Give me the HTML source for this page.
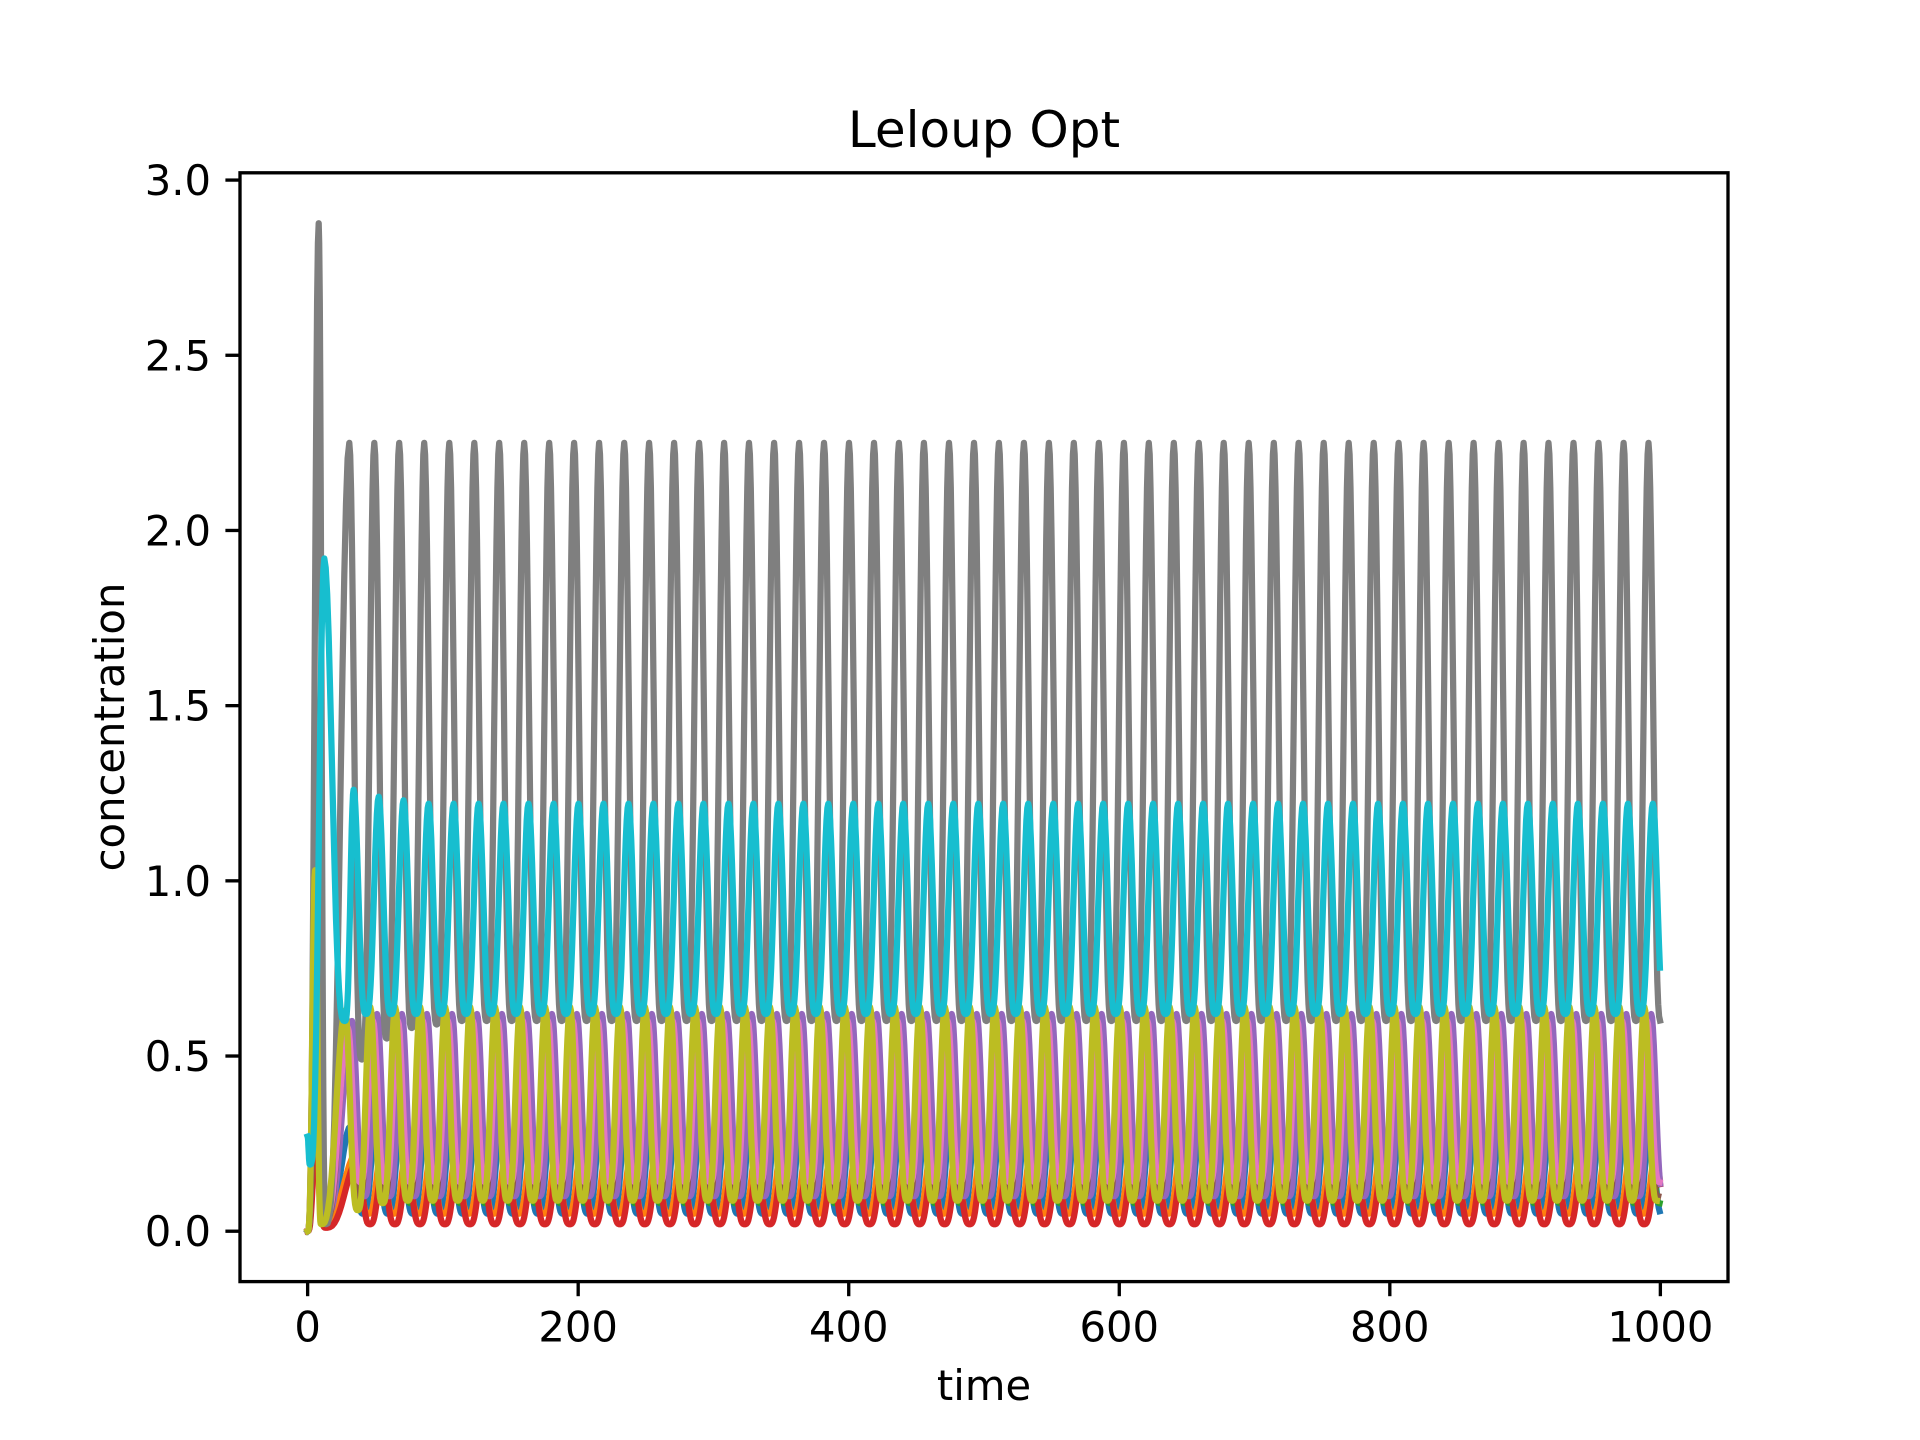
<!DOCTYPE html>
<html><head><meta charset="utf-8"><title>Leloup Opt</title>
<style>html,body{margin:0;padding:0;background:#fff}svg{display:block}text{font-family:"DejaVu Sans","Liberation Sans",sans-serif;fill:#000}</style>
</head><body>
<svg id="chart" width="1920" height="1440" viewBox="0 0 1920 1440" xmlns="http://www.w3.org/2000/svg">
<rect x="0" y="0" width="1920" height="1440" fill="#fff"/>
<text x="984" y="147" font-size="50" text-anchor="middle">Leloup Opt</text>
<defs><clipPath id="plotclip"><rect x="240" y="172.8" width="1488" height="1108.8"/></clipPath></defs>
<g id="series" clip-path="url(#plotclip)"></g>
<g id="axes"></g>
<text x="984" y="1400" font-size="41.7" text-anchor="middle">time</text>
<text x="0" y="0" font-size="41.7" text-anchor="middle" transform="translate(124,727) rotate(-90)">concentration</text>
</svg>
<script>
const xTicks = [0, 200, 400, 600, 800, 1000];
const xTickLabels = ["0", "200", "400", "600", "800", "1000"];
const yTicks = [0, 0.5, 1.0, 1.5, 2.0, 2.5, 3.0];
const yTickLabels = ["0.0", "0.5", "1.0", "1.5", "2.0", "2.5", "3.0"];
const tEnd = 1000;
const cycleTimes = [30.8,49.3,67.7,86.2,104.7,123.2,141.6,160.1,178.6,197.0,215.5,234.0,252.4,270.9,289.4,307.9,326.3,344.8,363.3,381.7,400.2,418.7,437.1,455.6,474.1,492.6,511.0,529.5,548.0,566.4,584.9,603.4,621.8,640.3,658.8,677.2,695.7,714.2,732.6,751.1,769.6,788.1,806.5,825.0,843.5,861.9,880.4,898.9,917.3,935.8,954.3,972.8,991.2];
const seriesNames = ["blue","orange","green","red","purple","brown","pink","gray","olive","cyan"];
const seriesColors = ["#1f77b4","#ff7f0e","#2ca02c","#d62728","#9467bd","#8c564b","#e377c2","#7f7f7f","#bcbd22","#17becf"];
// transient keypoints [t, value] before regular cycling
const blueStart = [[0,0],[6,0.35],[14,0.05]];
const orangeStart = [[0,0],[5,0.3],[12,0.03]];
const greenStart = [[0,0],[6,1.1],[13,0.05]];
const redStart = [[0,0],[6,0.25],[13,0.01]];
const purpleStart = [[0,0],[6,0.7],[14,0.05]];
const brownStart = [[0,0],[6,0.6],[13,0.03]];
const pinkStart = [[0,0],[5,0.8],[12,0.03]];
const grayStart = [[0,0],[8.2,2.877],[13.5,0.02]];
const oliveStart = [[0,0],[5.5,1.03],[10,0.02]];
const cyanStart = [[0,0.27],[1.8,0.19],[12.3,1.92],[27.5,0.6]];
// per-cycle peak and trough values (last value holds for remaining cycles)
const bluePeaks = [0.3];  const blueTroughs = [0.05];
const orangePeaks = [0.22]; const orangeTroughs = [0.05];
const greenPeaks = [0.6]; const greenTroughs = [0.08];
const redPeaks = [0.2,0.18]; const redTroughs = [0.02];
const purplePeaks = [0.6,0.62]; const purpleTroughs = [0.1];
const brownPeaks = [0.55]; const brownTroughs = [0.1];
const pinkPeaks = [0.58,0.6]; const pinkTroughs = [0.14];
const grayPeaks = [2.25]; const grayTroughs = [0.49,0.55,0.58,0.59,0.6];
const olivePeaks = [0.63,0.64]; const oliveTroughs = [0.06,0.08,0.087];
const cyanPeaks = [1.26,1.24,1.23,1.22]; const cyanTroughs = [0.62];
const seriesLags = [1, 5, -1, 6, 2, -2, -1, 0, -3, 3.2];
const starts = [blueStart,orangeStart,greenStart,redStart,purpleStart,brownStart,pinkStart,grayStart,oliveStart,cyanStart];
const peaksAll = [bluePeaks,orangePeaks,greenPeaks,redPeaks,purplePeaks,brownPeaks,pinkPeaks,grayPeaks,olivePeaks,cyanPeaks];
const troughsAll = [blueTroughs,orangeTroughs,greenTroughs,redTroughs,purpleTroughs,brownTroughs,pinkTroughs,grayTroughs,oliveTroughs,cyanTroughs];

const NS = "http://www.w3.org/2000/svg";
const X0 = 240, X1 = 1728, Y0 = 1281.6, Y1 = 172.8;
const xMin = -50, xMax = 1050, yMin = -0.1438, yMax = 3.0208;
function xs(t){ return X0 + (t - xMin) / (xMax - xMin) * (X1 - X0); }
function ys(v){ return Y0 - (v - yMin) / (yMax - yMin) * (Y0 - Y1); }
function pick(arr, i){ return arr[Math.min(i, arr.length - 1)]; }

function keypoints(k){
  const pts = starts[k].slice();
  const lag = seriesLags[k];
  const n = cycleTimes.length;
  for (let i = 0; i < n; i++){
    const tp = cycleTimes[i] + lag;
    if (tp > pts[pts.length-1][0]) pts.push([tp, pick(peaksAll[k], i)]);
    const next = i + 1 < n ? cycleTimes[i+1] + lag : tp + (cycleTimes[n-1]-cycleTimes[n-2]);
    pts.push([(tp + next) / 2, pick(troughsAll[k], i)]);
  }
  return pts;
}
function buildPath(pts){
  let d = "";
  const p = 1.6;
  for (let j = 0; j < pts.length - 1; j++){
    const a = pts[j], b = pts[j+1];
    if (a[0] >= tEnd) break;
    const steps = 14;
    for (let s = 0; s <= steps; s++){
      const u = s / steps;
      const t = a[0] + (b[0]-a[0]) * u;
      if (t > tEnd) break;
      const f = (1 - Math.cos(Math.PI * u)) / 2;
      let v;
      if (b[1] > a[1]) v = a[1] + (b[1]-a[1]) * Math.pow(f, p);
      else v = b[1] + (a[1]-b[1]) * Math.pow(1 - f, p);
      d += (d ? "L" : "M") + xs(t).toFixed(1) + "," + ys(v).toFixed(1);
    }
  }
  return d;
}
const gS = document.getElementById("series");
for (let k = 0; k < seriesNames.length; k++){
  const path = document.createElementNS(NS, "path");
  path.setAttribute("d", buildPath(keypoints(k)));
  path.setAttribute("fill", "none");
  path.setAttribute("stroke", seriesColors[k]);
  path.setAttribute("stroke-width", "6.25");
  path.setAttribute("stroke-linejoin", "round");
  path.setAttribute("stroke-linecap", "square");
  
  
  gS.appendChild(path);
}
const gA = document.getElementById("axes");
const frame = document.createElementNS(NS, "rect");
frame.setAttribute("x", X0); frame.setAttribute("y", Y1);
frame.setAttribute("width", X1 - X0); frame.setAttribute("height", Y0 - Y1);
frame.setAttribute("fill", "none"); frame.setAttribute("stroke", "#000"); frame.setAttribute("stroke-width", "3.33");


gA.appendChild(frame);
xTicks.forEach((t, i) => {
  const x = xs(t);
  const ln = document.createElementNS(NS, "line");
  ln.setAttribute("x1", x); ln.setAttribute("x2", x);
  ln.setAttribute("y1", Y0); ln.setAttribute("y2", Y0 + 14.6);
  ln.setAttribute("stroke", "#000"); ln.setAttribute("stroke-width", "3.33");
  
  
  gA.appendChild(ln);
  const tx = document.createElementNS(NS, "text");
  tx.setAttribute("x", x); tx.setAttribute("y", Y0 + 29 + 31);
  tx.setAttribute("font-size", "41.7"); tx.setAttribute("text-anchor", "middle");
  tx.textContent = xTickLabels[i];
  
  
  gA.appendChild(tx);
});
yTicks.forEach((v, i) => {
  const y = ys(v);
  const ln = document.createElementNS(NS, "line");
  ln.setAttribute("x1", X0 - 14.6); ln.setAttribute("x2", X0);
  ln.setAttribute("y1", y); ln.setAttribute("y2", y);
  ln.setAttribute("stroke", "#000"); ln.setAttribute("stroke-width", "3.33");
  
  
  gA.appendChild(ln);
  const tx = document.createElementNS(NS, "text");
  tx.setAttribute("x", X0 - 29); tx.setAttribute("y", y + 15);
  tx.setAttribute("font-size", "41.7"); tx.setAttribute("text-anchor", "end");
  tx.textContent = yTickLabels[i];
  
  
  gA.appendChild(tx);
});
</script>
</body></html>
